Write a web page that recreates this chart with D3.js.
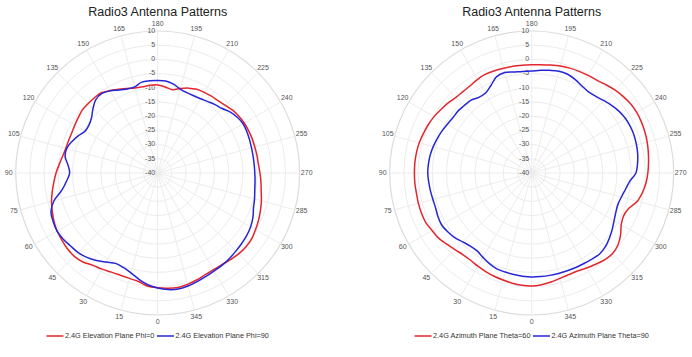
<!DOCTYPE html>
<html><head><meta charset="utf-8">
<script src="https://cdn.jsdelivr.net/npm/d3@7"></script>
<style>
body{margin:0;background:#fff}
svg{display:block}
text{font-family:Arial,"Liberation Sans",sans-serif}
</style>
</head><body>
<svg id="c" width="692" height="357"></svg>
<script>
// ---- data ----
const angles = [0,5,10,15,20,25,30,35,40,45,50,55,60,65,70,75,80,85,90,95,100,105,110,115,120,125,130,135,140,145,150,155,160,165,170,175,
  180,185,190,195,200,205,210,215,220,225,230,235,240,245,250,255,260,265,270,275,280,285,290,295,300,305,310,315,320,325,330,335,340,345,350,355];

const elevPhi0 = [0.4,0.0,-1.2,-1.6,-1.7,-1.5,-0.9,-0.3,0.9,1.5,1.5,1.2,0.9,0.3,-0.5,-1.3,-2.3,-3.3,-4.2,-5.2,-6.0,-6.5,-6.6,-6.6,-6.3,-5.9,-5.4,-5.4,-5.4,-5.5,-6.5,-7.5,-8.3,-9.0,-9.2,-9.0,
  -9.0,-9.6,-10.2,-9.2,-8.2,-7.5,-7.2,-7.0,-6.8,-6.3,-5.6,-5.1,-4.8,-4.7,-4.6,-4.6,-4.5,-4.4,-4.0,-3.5,-3.0,-2.2,-1.5,-0.8,-0.2,0.4,0.5,0.3,-0.2,-0.6,-0.7,-0.5,0.1,0.6,0.9,0.7];

const elevPhi90 = [0.5,-0.5,-2.0,-3.6,-4.6,-4.9,-3.8,-2.4,-1.2,-0.4,0.0,0.6,0.9,0.6,0.0,-2.2,-5.8,-7.8,-9.0,-8.3,-6.9,-6.8,-7.8,-9.1,-10.5,-10.5,-9.6,-7.8,-6.2,-5.8,-6.6,-7.8,-8.5,-8.6,-7.5,-7.4,
  -7.4,-7.5,-8.2,-9.4,-9.9,-10.0,-9.8,-9.3,-8.6,-7.9,-6.6,-5.8,-5.3,-5.4,-5.6,-5.8,-5.9,-5.9,-5.8,-5.6,-5.3,-4.7,-4.1,-3.0,-2.2,-1.7,-1.4,-1.1,-0.7,-0.4,-0.2,0.2,0.7,1.2,1.5,1.2];

const azTheta60 = [-0.2,-0.3,-0.6,-1.0,-1.3,-1.7,-2.1,-2.5,-2.4,-1.8,-1.0,0.0,0.5,1.2,1.3,1.3,1.2,1.3,1.3,1.3,1.2,1.0,0.6,0.2,-0.3,-1.0,-1.6,-2.3,-2.5,-2.4,-1.9,-1.6,-1.7,-1.8,-1.8,-1.9,
  -1.9,-1.7,-1.4,-1.0,-0.7,-0.5,-0.3,-0.1,0.6,1.4,2.0,2.5,2.7,2.6,2.4,2.1,1.7,1.3,0.9,0.4,-0.4,-1.5,-3.6,-4.3,-3.6,-1.8,-0.4,0.2,-0.1,-0.8,-1.4,-1.9,-1.9,-1.6,-1.0,-0.5];

const azTheta90 = [-3.4,-3.5,-3.7,-3.9,-4.1,-4.8,-5.7,-6.5,-6.4,-5.7,-4.6,-3.9,-3.4,-3.6,-4.0,-4.0,-3.8,-3.6,-3.4,-3.5,-3.7,-4.1,-4.6,-5.1,-5.7,-6.1,-6.1,-6.4,-6.6,-7.5,-7.5,-6.0,-3.9,-3.4,-3.9,-4.1,
  -4.1,-3.7,-3.3,-2.9,-3.0,-3.7,-4.6,-5.1,-4.8,-4.0,-3.1,-2.3,-1.8,-1.6,-1.6,-1.8,-2.1,-2.6,-3.3,-5.4,-6.5,-7.3,-7.7,-7.3,-6.5,-5.4,-4.3,-3.3,-2.8,-3.0,-3.2,-3.3,-3.4,-3.4,-3.4,-3.4];

const radialTicks = [-40,-35,-30,-25,-20,-15,-10,-5,0,5,10];
const angularTicks = [0,15,30,45,60,75,90,105,120,135,150,165,180,195,210,225,240,255,270,285,300,315,330,345];

const titles = ["Radio3 Antenna Patterns","Radio3 Antenna Patterns"];
const legendNames = [["2.4G Elevation Plane Phi=0","2.4G Elevation Plane Phi=90"],
                     ["2.4G Azimuth Plane Theta=60","2.4G Azimuth Plane Theta=90"]];
const seriesSets = [[elevPhi0, elevPhi90],[azTheta60, azTheta90]];
const colors = ["#e3262d","#2626d9"];

// ---- layout ----
const centersX = [157.7, 531.7];
const cy = 173;
const R = 142;

const svg = d3.select("#c");
svg.append("rect").attr("width",692).attr("height",357).attr("fill","#fff");

const rScale = d3.scaleLinear().domain([-40,10]).range([0,R]);
const aScale = d3.scaleLinear().domain([0,360]).range([Math.PI, 3*Math.PI]);

centersX.forEach((cx,ci)=>{
  const g = svg.append("g").attr("transform",`translate(${cx},${cy})`);

  // title
  svg.append("text").attr("x",cx).attr("y",16).attr("text-anchor","middle")
    .attr("font-size",12.5).attr("fill","#222").text(titles[ci]);

  // rings
  g.selectAll("circle.ring").data(radialTicks.slice(1)).join("circle")
    .attr("class","ring").attr("r",d=>rScale(d)).attr("fill","none")
    .attr("stroke",d=>d===10?"#dcdcdc":"#ececec").attr("stroke-width",d=>d===10?1.2:1);

  // spokes
  g.selectAll("line.spoke").data(angularTicks).join("line")
    .attr("class","spoke")
    .attr("x1",0).attr("y1",0)
    .attr("x2",d=>R*Math.sin(aScale(d)))
    .attr("y2",d=>-R*Math.cos(aScale(d)))
    .attr("stroke","#ececec").attr("stroke-width",1);

  // angular labels
  g.selectAll("text.ang").data(angularTicks).join("text")
    .attr("class","ang")
    .attr("x",d=>149*Math.sin(aScale(d)))
    .attr("y",d=>-149*Math.cos(aScale(d)))
    .attr("text-anchor","middle").attr("dominant-baseline","middle")
    .attr("font-size",7).attr("fill","#555").text(d=>d);

  // radial labels
  g.selectAll("text.rad").data(radialTicks).join("text")
    .attr("class","rad")
    .attr("x",-2.5).attr("y",d=>-rScale(d))
    .attr("text-anchor","end").attr("dominant-baseline","middle")
    .attr("font-size",7).attr("fill","#555").text(d=>d);

  // series
  const line = d3.lineRadial()
    .angle((d,i)=>aScale(angles[i]))
    .radius(d=>rScale(d))
    .curve(d3.curveCatmullRomClosed.alpha(0.5));

  seriesSets[ci].forEach((vals,si)=>{
    g.append("path").attr("d",line(vals)).attr("fill","none")
      .attr("stroke",colors[si]).attr("stroke-width",1.5);
  });

  // legend
  const lg = svg.append("g");
  let x = 0;
  legendNames[ci].forEach((nm,si)=>{
    lg.append("line").attr("x1",x).attr("x2",x+17).attr("y1",0).attr("y2",0)
      .attr("stroke",colors[si]).attr("stroke-width",1.5);
    const t = lg.append("text").attr("x",x+18.5).attr("y",0).attr("dominant-baseline","middle")
      .attr("font-size",7.3).attr("fill","#333").text(nm);
    x += 18.5 + t.node().getComputedTextLength() + 2.5;
  });
  const w = x - 2.5;
  lg.attr("transform",`translate(${cx - w/2},336)`);
});
</script>
</body></html>
